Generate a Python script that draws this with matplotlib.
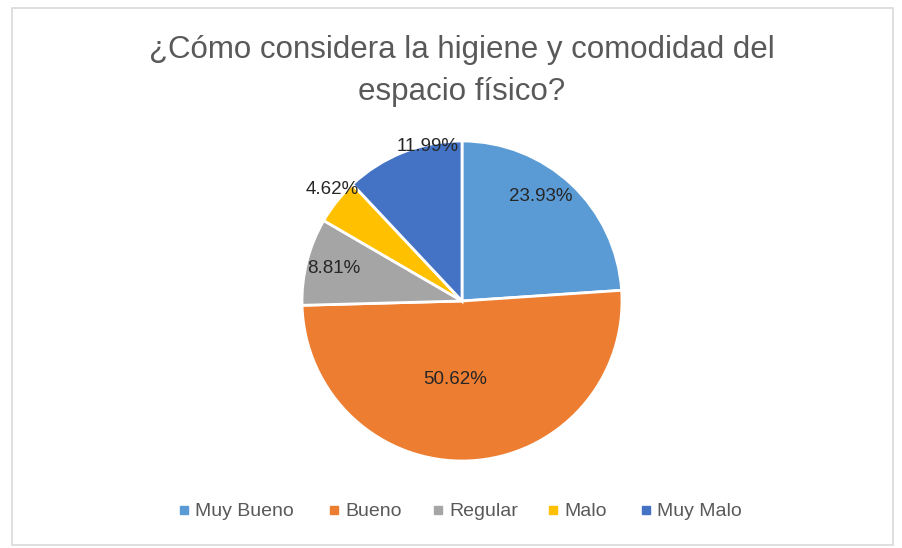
import numpy as np
import matplotlib.pyplot as plt
from matplotlib.lines import Line2D
from matplotlib.patches import Rectangle

plt.rcParams['font.family'] = ['Liberation Sans', 'DejaVu Sans']

categorias = ['Muy Bueno', 'Bueno', 'Regular', 'Malo', 'Muy Malo']
porcentajes = [23.93, 50.62, 8.81, 4.62, 11.99]
colores = ['#5B9BD5', '#ED7D31', '#A5A5A5', '#FFC000', '#4472C4']
titulo = '¿Cómo considera la higiene y comodidad del\nespacio físico?'

# label distance from centre (in radii) for each slice, Excel "best fit" look
dist_etiquetas = [0.82, 0.49, 0.83, 1.07, 0.99]
desvio_angulo = [6, -8, 0, -2, -9]

W, H = 903, 548
fig = plt.figure(figsize=(W / 100, H / 100), dpi=100)

marco = Rectangle((12 / W, 3 / H), 881 / W, 537 / H, transform=fig.transFigure,
                  facecolor='none', edgecolor='#d9d9d9', linewidth=1.2, zorder=-1)
fig.patches.append(marco)

ax = fig.add_axes([(462 - 160) / W, (H - 461) / H, 320 / W, 320 / H])
wedges, _ = ax.pie(porcentajes, colors=colores, startangle=90, counterclock=False,
                   radius=1, wedgeprops=dict(edgecolor='white', linewidth=2))
ax.set_xlim(-1, 1)
ax.set_ylim(-1, 1)
ax.set_aspect('equal')
ax.axis('off')

for w, p, d, da in zip(wedges, porcentajes, dist_etiquetas, desvio_angulo):
    ang = np.deg2rad((w.theta1 + w.theta2) / 2 + da)
    ax.text(d * np.cos(ang), d * np.sin(ang), '%.2f%%' % p, ha='center', va='center',
            fontsize=13.5, color='#262626')

fig.text(0.5115, 1 - 71 / H, titulo, ha='center', va='center', fontsize=22.5,
         color='#595959', linespacing=1.5)

# legend along the bottom, one entry after the other
x_marcas = [184, 334, 438, 553, 646]
y_leyenda = 1 - 510 / H
for x, c, nombre in zip(x_marcas, colores, categorias):
    fig.add_artist(Line2D([x / W], [y_leyenda], marker='s', markersize=6, linestyle='none',
                          markerfacecolor=c, markeredgecolor=c, transform=fig.transFigure))
    fig.text((x + 11) / W, y_leyenda, nombre, ha='left', va='center_baseline',
             fontsize=14, color='#595959')

fig.savefig('out.png', dpi=100, facecolor='white')
